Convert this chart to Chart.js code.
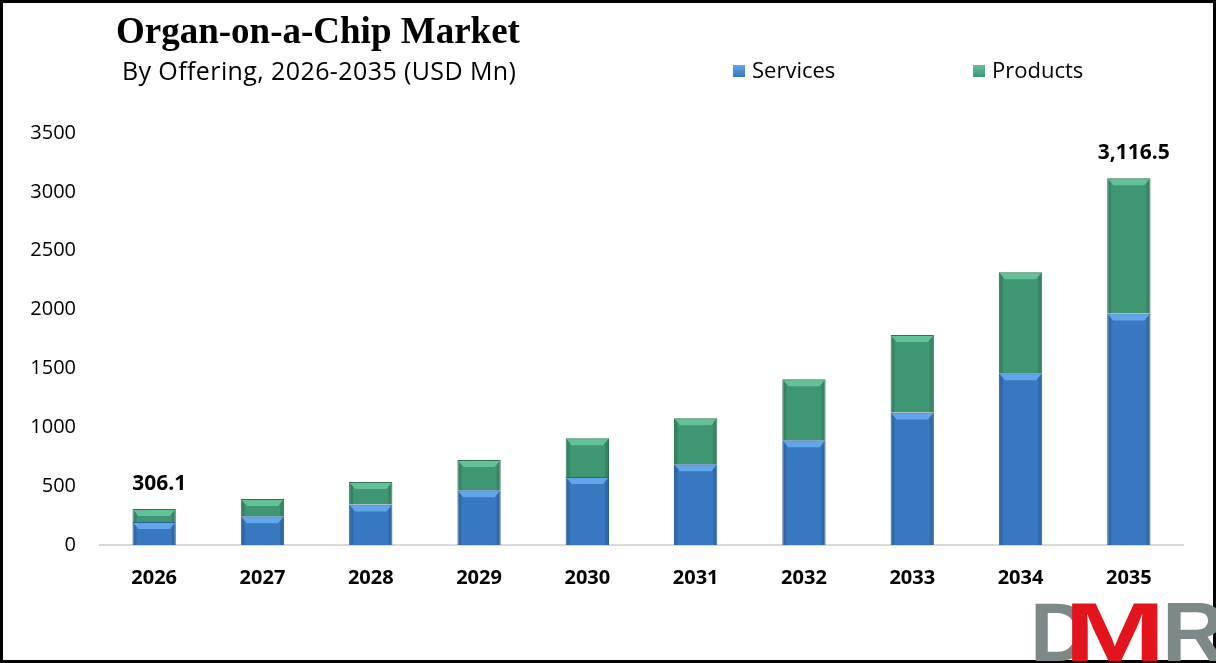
<!DOCTYPE html>
<html>
<head>
<meta charset="utf-8">
<script src="https://cdn.jsdelivr.net/npm/chart.js@4.4.0/dist/chart.umd.min.js"></script>
<style>
  body { margin: 0; background: #fff; }
  #wrap { position: relative; width: 1216px; height: 663px; overflow: hidden; background: #fff; }
  #chart { position: absolute; left: 0; top: 0; }
  #frame { position: absolute; left: 0; top: 0; width: 1216px; height: 663px; box-sizing: border-box; border: 3px solid #000; pointer-events: none; }
  #title { position: absolute; left: 116px; top: 9px; font: bold 37px "Liberation Serif", serif; color: #000; white-space: nowrap; }
  #subtitle { position: absolute; left: 122px; top: 53px; font: 25px "Open Sans", sans-serif; letter-spacing: 0.4px; color: #000; white-space: nowrap; }
  .legend-item { position: absolute; top: 54px; font: 22px "Open Sans", sans-serif; color: #000; white-space: nowrap; }
  .legend-item span.box { display: inline-block; width: 12px; height: 12px; margin-right: 7px; vertical-align: 1px; }
  .logo { position: absolute; top: 590px; font: bold 84px "Liberation Sans", sans-serif; line-height: 1; white-space: nowrap; transform-origin: left top; }
</style>
</head>
<body>
<div id="wrap">
  <canvas id="chart" width="1216" height="663"></canvas>
  <div id="title">Organ-on-a-Chip Market</div>
  <div id="subtitle">By Offering, 2026-2035 (USD Mn)</div>
  <div id="legend"></div>
  <div id="frame"></div>
  <div class="logo" style="left:1030px;color:#7d8888">D</div>
  <div class="logo" style="left:1162px;color:#7d8888;transform:scaleX(1.05)">R</div>
  <div class="logo" style="left:1064px;color:#e3141b;transform:scaleX(1.45)">M</div>
</div>
<script>
// Chart data
const years = ['2026', '2027', '2028', '2029', '2030', '2031', '2032', '2033', '2034', '2035'];
const services = [195, 245, 345, 465, 577, 686, 890, 1125, 1460, 1966];
const products = [111.1, 145, 190, 257, 329, 390, 519, 658, 858, 1150.5];
const totalLabels = ['306.1', '', '', '', '', '', '', '', '', '3,116.5'];
const yTicks = [0, 500, 1000, 1500, 2000, 2500, 3000, 3500];

const blue = { body: '#3878c0', light: '#62a6ea', edge: '#2b5f98' };
const green = { body: '#3e9673', light: '#63c197', edge: '#2f7257' };

// Build the legend from the dataset names
const legendEl = document.getElementById('legend');
[['Services', blue, 733], ['Products', green, 973]].forEach(([name, c, left]) => {
    const div = document.createElement('div');
    div.className = 'legend-item';
    div.style.left = left + 'px';
    div.innerHTML = `<span class="box" style="background:linear-gradient(${c.light}, ${c.body})"></span>${name}`;
    legendEl.appendChild(div);
});

// Bevel look: light top strip and darker sides on each bar segment
const bevelPlugin = {
    id: 'bevel',
    afterDatasetsDraw(chart) {
        const ctx = chart.ctx;
        chart.data.datasets.forEach((ds, i) => {
            const meta = chart.getDatasetMeta(i);
            meta.data.forEach(bar => {
                const p = bar.getProps(['x', 'y', 'base', 'width'], true);
                const left = p.x - p.width / 2;
                const right = p.x + p.width / 2;
                const top = p.y;
                const bottom = p.base;
                const b = 6;
                ctx.save();
                // darker sides
                ctx.fillStyle = 'rgba(0,0,0,0.12)';
                ctx.fillRect(left + 1, top + 1, 3, bottom - top - 1);
                ctx.fillRect(right - 4, top + 1, 3, bottom - top - 1);
                // light top
                ctx.fillStyle = ds.bevelColor;
                ctx.beginPath();
                ctx.moveTo(left + 1, top + 1);
                ctx.lineTo(right - 1, top + 1);
                ctx.lineTo(right - b, top + b + 1);
                ctx.lineTo(left + b, top + b + 1);
                ctx.closePath();
                ctx.fill();
                ctx.restore();
            });
        });
    }
};

// Total labels above the first and last stacks
const totalsPlugin = {
    id: 'totals',
    afterDatasetsDraw(chart) {
        const ctx = chart.ctx;
        const meta = chart.getDatasetMeta(chart.data.datasets.length - 1);
        ctx.save();
        ctx.font = 'bold 21px "Open Sans", sans-serif';
        ctx.fillStyle = '#000';
        ctx.textAlign = 'center';
        ctx.textBaseline = 'middle';
        meta.data.forEach((bar, i) => {
            if (!totalLabels[i]) return;
            ctx.fillText(totalLabels[i], bar.x + 5, bar.y - 25);
        });
        ctx.restore();
    }
};

new Chart(document.getElementById('chart'), {
    type: 'bar',
    data: {
        labels: years,
        datasets: [
            {
                label: 'Services',
                data: services,
                backgroundColor: blue.body,
                borderColor: blue.edge,
                borderWidth: 1,
                bevelColor: blue.light
            },
            {
                label: 'Products',
                data: products,
                backgroundColor: green.body,
                borderColor: green.edge,
                borderWidth: 1,
                bevelColor: green.light
            }
        ]
    },
    options: {
        responsive: false,
        animation: false,
        layout: { padding: { top: 133, right: 33, left: 0, bottom: 0 } },
        datasets: { bar: { categoryPercentage: 1, barPercentage: 0.4 } },
        plugins: {
            legend: { display: false },
            tooltip: { enabled: false }
        },
        scales: {
            x: {
                stacked: true,
                grid: { display: false, drawTicks: false },
                border: { display: true, color: '#d9d9d9', width: 2 },
                ticks: {
                    color: '#000',
                    padding: 21,
                    font: { family: 'Open Sans', size: 20, weight: 'bold' }
                },
                afterFit(scale) { scale.height = 118; }
            },
            y: {
                stacked: true,
                min: 0,
                max: 3500,
                grid: { display: false, drawTicks: false },
                border: { display: false },
                afterBuildTicks(scale) { scale.ticks = yTicks.map(v => ({ value: v })); },
                ticks: {
                    color: '#000',
                    padding: 24,
                    font: { family: 'Open Sans', size: 20 },
                    callback: v => String(v)
                },
                afterFit(scale) { scale.width = 100; }
            }
        }
    },
    plugins: [bevelPlugin, totalsPlugin]
});
</script>
</body>
</html>
